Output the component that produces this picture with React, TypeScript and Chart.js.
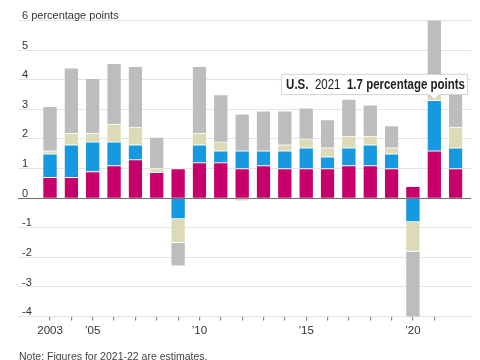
import React, { useEffect, useRef } from 'react';
import { Chart, registerables } from 'chart.js';

Chart.register(...registerables);

// ---- data (percentage points) ----
const years = [2003, 2004, 2005, 2006, 2007, 2008, 2009, 2010, 2011, 2012, 2013, 2014, 2015, 2016, 2017, 2018, 2019, 2020, 2021, 2022];
const chinaValues = [0.7, 0.7, 0.9, 1.1, 1.3, 0.87, 1.0, 1.2, 1.2, 1.0, 1.1, 1.0, 1.0, 1.0, 1.1, 1.1, 1.0, 0.4, 1.6, 1.0];
const usValues = [0.8, 1.1, 1.0, 0.8, 0.5, 0, -0.7, 0.6, 0.4, 0.6, 0.5, 0.6, 0.7, 0.4, 0.6, 0.7, 0.5, -0.8, 1.7, 0.7];
const otherAdvancedValues = [0.1, 0.4, 0.3, 0.6, 0.6, 0.13, -0.8, 0.4, 0.3, -0.1, 0, 0.2, 0.3, 0.3, 0.4, 0.3, 0.2, -1.0, 0.3, 0.7];
const restOfWorldValues = [1.5, 2.2, 1.85, 2.05, 2.05, 1.06, -0.8, 2.25, 1.6, 1.25, 1.35, 1.15, 1.05, 0.95, 1.25, 1.05, 0.75, -2.4, 2.7, 1.3];

const seriesNames = ['China', 'U.S.', 'Other advanced economies', 'Rest of world'];
const seriesColors = ['#c8006c', '#1799e0', '#dddbb7', '#bdbdbd'];

const yTickLabels: Record<number, string> = { 6: '6 percentage points' };
const xTickLabels: Record<number, string> = { 2003: '2003', 2005: '\u201905', 2010: '\u201910', 2015: '\u201915', 2020: '\u201920' };
const calloutIndex = 18;
const calloutUnit = 'percentage points';
const noteText = 'Note: Figures for 2021-22 are estimates.';

const SANS = '"Liberation Sans", Arial, sans-serif';

const calloutPlugin = {
  id: 'callout',
  afterDatasetsDraw(chart: any) {
    const meta = chart.getDatasetMeta(1);
    const el = meta.data[calloutIndex];
    if (!el) return;
    const { x, y } = el.getProps(['x', 'y'], true);
    const ctx = chart.ctx as CanvasRenderingContext2D;
    const parts = [
      { text: seriesNames[1], bold: true },
      { text: String(years[calloutIndex]), bold: false },
      { text: `${usValues[calloutIndex]} ${calloutUnit}`, bold: true },
    ];
    const sx = 0.82; // condensed look
    const fontFor = (b: boolean) => `${b ? 'bold ' : ''}14px ${SANS}`;
    ctx.save();
    const widths = parts.map((p) => {
      ctx.font = fontFor(p.bold);
      return ctx.measureText(p.text).width * sx;
    });
    const gap = 6.5;
    const padL = 4.5;
    const padR = 2.5;
    const w = padL + padR + widths.reduce((a, b) => a + b, 0) + gap * (parts.length - 1);
    const h = 20;
    const right = Math.min(x + w / 2, chart.chartArea.right - 3.5);
    const left = right - w;
    const bottom = y - 6;
    const top = bottom - h;
    const caretW = 5;

    ctx.beginPath();
    ctx.moveTo(left, top);
    ctx.lineTo(right, top);
    ctx.lineTo(right, bottom);
    ctx.lineTo(x + caretW, bottom);
    ctx.lineTo(x, y - 1);
    ctx.lineTo(x - caretW, bottom);
    ctx.lineTo(left, bottom);
    ctx.closePath();
    ctx.shadowColor = 'rgba(0,0,0,0.10)';
    ctx.shadowBlur = 3;
    ctx.fillStyle = '#ffffff';
    ctx.fill();
    ctx.shadowColor = 'transparent';
    ctx.strokeStyle = '#d6d6d6';
    ctx.lineWidth = 1;
    ctx.stroke();

    let tx = left + padL;
    ctx.fillStyle = '#222222';
    ctx.textBaseline = 'middle';
    ctx.textAlign = 'left';
    parts.forEach((p, i) => {
      ctx.save();
      ctx.font = fontFor(p.bold);
      ctx.translate(tx, top + h / 2 + 1);
      ctx.scale(sx, 1);
      ctx.fillText(p.text, 0, 0);
      ctx.restore();
      tx += widths[i] + gap;
    });
    ctx.restore();
  },
};

export default function App() {
  const canvasRef = useRef<HTMLCanvasElement | null>(null);

  useEffect(() => {
    if (!canvasRef.current) return;
    const seriesValues = [chinaValues, usValues, otherAdvancedValues, restOfWorldValues];
    const chart = new Chart(canvasRef.current, {
      type: 'bar',
      data: {
        datasets: seriesValues.map((vals, i) => ({
          label: seriesNames[i],
          data: vals.map((v, j) => ({ x: years[j], y: v })),
          backgroundColor: seriesColors[i],
          borderColor: '#ffffff',
          borderWidth: { top: 1, bottom: 1, left: 0, right: 0 },
          borderSkipped: 'start',
          barThickness: 13.4,
        })),
      },
      options: {
        responsive: false,
        animation: false,
        layout: { padding: { left: 10, right: 9, top: 20.5, bottom: 19.6 } },
        plugins: {
          legend: { display: false },
          tooltip: { enabled: false },
        },
        scales: {
          x: {
            type: 'linear',
            stacked: true,
            offset: false,
            min: 2001.5,
            max: 2022.72,
            border: { display: false },
            grid: {
              offset: false,
              drawOnChartArea: false,
              drawTicks: true,
              tickLength: 4,
              lineWidth: 1.2,
              color: (ctx: any) => {
                const v = ctx.tick ? ctx.tick.value : NaN;
                return Number.isInteger(v) && v >= years[0] && v <= years[years.length - 1] ? '#8a8a8a' : 'rgba(0,0,0,0)';
              },
            },
            ticks: {
              stepSize: 1,
              autoSkip: false,
              maxRotation: 0,
              padding: 3,
              color: '#333333',
              font: { size: 11.5, family: SANS },
              callback: (v: any) => xTickLabels[v as number] ?? '',
            },
          },
          y: {
            stacked: true,
            min: -4,
            max: 6,
            border: { display: false },
            grid: {
              drawTicks: false,
              color: (ctx: any) => (ctx.tick && ctx.tick.value === 0 ? '#707070' : '#e4e4e4'),
              lineWidth: 1,
            },
            ticks: {
              stepSize: 1,
              mirror: true,
              padding: 4,
              labelOffset: -4.5,
              color: '#333333',
              font: { size: 11, family: SANS },
              callback: (v: any) => yTickLabels[v as number] ?? String(v),
            },
          },
        },
      },
      plugins: [calloutPlugin],
    });
    return () => chart.destroy();
  }, []);

  return (
    <div style={{ position: 'absolute', left: 0, top: 0, width: 480, height: 360, background: '#fff' }}>
      <canvas ref={canvasRef} width={480} height={360} style={{ display: 'block' }} />
      <div
        style={{
          position: 'absolute',
          left: 19,
          top: 350,
          fontFamily: SANS,
          fontSize: '10.5px',
          lineHeight: '12px',
          color: '#444',
          whiteSpace: 'nowrap',
        }}
      >
        {noteText}
      </div>
    </div>
  );
}
